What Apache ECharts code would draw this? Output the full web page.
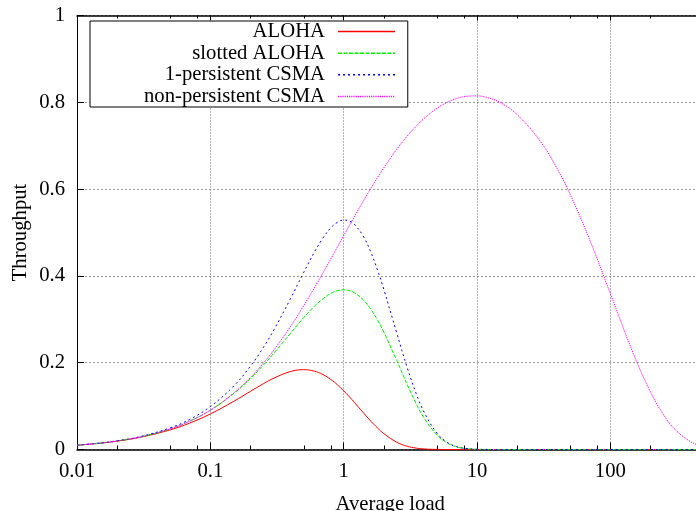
<!DOCTYPE html>
<html>
<head>
<meta charset="utf-8">
<script src="https://cdn.jsdelivr.net/npm/echarts@6/dist/echarts.min.js"></script>
<style>
html,body{margin:0;padding:0;background:#fff;}
#chart{width:696px;height:511px;}
</style>
</head>
<body>
<div id="chart"></div>
<script>
// Average load (x values, shared by all series)
const load = [0.01, 0.015, 0.02, 0.03, 0.05, 0.07,
  0.1, 0.15, 0.2, 0.25, 0.3, 0.4, 0.5, 0.6, 0.7, 0.8, 0.9,
  1, 1.1, 1.2, 1.4, 1.6, 1.8,
  2, 2.5, 3, 3.5, 4, 5, 6, 7, 8,
  10, 12, 15, 20, 30, 40, 50, 70,
  100, 150, 200, 250, 300, 400, 500];

const aloha = [0.0098, 0.0146, 0.0192, 0.0283, 0.0452, 0.0608,
  0.0819, 0.1111, 0.1341, 0.1516, 0.1646, 0.1797, 0.1839, 0.1807, 0.1726, 0.1615, 0.1488,
  0.1353, 0.1219, 0.1089, 0.0851, 0.0652, 0.0492,
  0.0366, 0.0168, 0.0074, 0.0032, 0.0013, 0.0002, 0, 0, 0,
  0, 0, 0, 0, 0, 0, 0, 0,
  0, 0, 0, 0, 0, 0, 0];

const slottedAloha = [0.0099, 0.0148, 0.0196, 0.0291, 0.0476, 0.0653,
  0.0905, 0.1291, 0.1637, 0.1947, 0.2222, 0.2681, 0.3033, 0.3293, 0.3476, 0.3595, 0.3659,
  0.3679, 0.3662, 0.3614, 0.3452, 0.3230, 0.2975,
  0.2707, 0.2052, 0.1494, 0.1057, 0.0733, 0.0337, 0.0149, 0.0064, 0.0027,
  0.0005, 0.0001, 0, 0, 0, 0, 0, 0,
  0, 0, 0, 0, 0, 0, 0];

const persistent1 = [0.0100, 0.0150, 0.0200, 0.0299, 0.0499, 0.0694,
  0.0989, 0.1465, 0.1921, 0.2354, 0.2760, 0.3480, 0.4072, 0.4535, 0.4875, 0.5105, 0.5237,
  0.5287, 0.5267, 0.5192, 0.4919, 0.4546, 0.4125,
  0.3692, 0.2686, 0.1882, 0.1288, 0.0867, 0.0380, 0.0161, 0.0067, 0.0028,
  0.0005, 0.0001, 0, 0, 0, 0, 0, 0,
  0, 0, 0, 0, 0, 0, 0];

const nonPersistent = [0.0099, 0.0148, 0.0196, 0.0291, 0.0476, 0.0653,
  0.0907, 0.1301, 0.1661, 0.1991, 0.2295, 0.2838, 0.3306, 0.3714, 0.4072, 0.4389, 0.4672,
  0.4925, 0.5154, 0.5360, 0.5719, 0.6019, 0.6273,
  0.6491, 0.6917, 0.7223, 0.7451, 0.7624, 0.7860, 0.8002, 0.8085, 0.8131,
  0.8148, 0.8108, 0.7989, 0.7717, 0.7091, 0.6466, 0.5877, 0.4835,
  0.3594, 0.2184, 0.1326, 0.0805, 0.0488, 0.0180, 0.0066];

const seriesNames = ['ALOHA', 'slotted ALOHA', '1-persistent CSMA', 'non-persistent CSMA'];
const xTickLabels = ['0.01', '0.1', '1', '10', '100'];
const xMinorTicks = [0.02, 0.05, 0.08, 0.2, 0.5, 0.8, 2, 5, 8, 20, 50, 80, 200];
const xName = 'Average load';
const yName = 'Throughput';

const FONT = 'Liberation Serif';
const FS = 20.7;
const chart = echarts.init(document.getElementById('chart'), null, {renderer: 'canvas'});

function pairs(vals) { return load.map((x, i) => [x, vals[i]]); }

function xLabel(v) {
  const l = Math.log10(v);
  const e = Math.round(l);
  if (Math.abs(l - e) > 1e-6) return '';
  return xTickLabels[e + 2] || '';
}

const lineBase = {type: 'line', symbol: 'none', smooth: 0.4, animation: false, z: 3};

chart.setOption({
  animation: false,
  backgroundColor: '#ffffff',
  grid: {left: 77, right: -7.5, top: 15.5, bottom: 61.5, containLabel: false, outerBoundsMode: 'none'},
  legend: {
    data: seriesNames,
    orient: 'vertical',
    align: 'right',
    left: 90,
    top: 21,
    padding: [0, 12, 0, 54],
    itemWidth: 57,
    itemHeight: 10,
    itemGap: 0.67,
    borderColor: '#000',
    borderWidth: 1,
    backgroundColor: '#fff',
    itemStyle: {color: 'transparent', borderWidth: 0, opacity: 0},
    lineStyle: {width: 1.5},
    formatter: function (name) { return name + '{g|}'; },
    textStyle: {fontFamily: FONT, fontSize: FS, lineHeight: 20.5, color: '#000',
      rich: {g: {width: 8, fontSize: FS, lineHeight: 20.5}}}
  },
  xAxis: [{
    type: 'log',
    logBase: 10,
    min: 0.01,
    max: 500,
    position: 'bottom',
    name: xName,
    nameLocation: 'middle',
    nameGap: 45,
    nameMoveOverlap: false,
    nameTextStyle: {fontFamily: FONT, fontSize: FS, color: '#000'},
    axisLine: {show: true, onZero: false, lineStyle: {color: '#000', width: 1.5}},
    axisTick: {show: true, inside: true, length: 7, lineStyle: {color: '#000'}},
    axisLabel: {show: true, fontFamily: FONT, fontSize: FS, color: '#000', margin: 12, formatter: xLabel, showMinLabel: true, showMaxLabel: false},
    splitLine: {show: true, lineStyle: {color: '#666', type: [1, 2], width: 1}},
    minorTick: {show: false}
  }, {
    type: 'log',
    logBase: 10,
    min: 0.01,
    max: 500,
    position: 'top',
    axisLine: {show: true, onZero: false, lineStyle: {color: '#000', width: 1.5}},
    axisTick: {show: true, inside: true, length: 5, lineStyle: {color: '#000'}},
    axisLabel: {show: false},
    splitLine: {show: false}
  }],
  yAxis: [{
    type: 'value',
    min: 0,
    max: 1,
    interval: 0.2,
    name: yName,
    nameLocation: 'middle',
    nameGap: 46,
    nameMoveOverlap: false,
    nameRotate: 90,
    nameTextStyle: {fontFamily: FONT, fontSize: FS, color: '#000'},
    axisLine: {show: true, onZero: false, lineStyle: {color: '#000', width: 1}},
    axisTick: {show: true, inside: true, length: 7, lineStyle: {color: '#000'}},
    axisLabel: {fontFamily: FONT, fontSize: FS, color: '#000', margin: 12},
    splitLine: {show: true, lineStyle: {color: '#999', type: [2, 2], width: 1}}
  }],
  series: [
    Object.assign({}, lineBase, {name: seriesNames[0], data: pairs(aloha),
      lineStyle: {color: '#ff0000', width: 1, type: 'solid'}, itemStyle: {color: '#ff0000'}}),
    Object.assign({}, lineBase, {name: seriesNames[1], data: pairs(slottedAloha),
      lineStyle: {color: '#00ee00', width: 1, type: [4, 1.5]}, itemStyle: {color: '#00ee00'}}),
    Object.assign({}, lineBase, {name: seriesNames[2], data: pairs(persistent1),
      lineStyle: {color: '#0000ff', width: 1, type: [2, 3]}, itemStyle: {color: '#0000ff'}}),
    Object.assign({}, lineBase, {name: seriesNames[3], data: pairs(nonPersistent),
      lineStyle: {color: '#ff00ff', width: 1, type: [1.2, 1]}, itemStyle: {color: '#ff00ff'}}),
    {
      type: 'custom',
      name: 'minorTicks',
      silent: true,
      animation: false,
      z: 4,
      encode: {x: 0, y: 1},
      data: xMinorTicks.map(v => [v, 0]),
      renderItem: function (params, api) {
        const v = api.value(0);
        const b = api.coord([v, 0]);
        const t = api.coord([v, 1]);
        const x = Math.round(b[0]) + 0.5;
        return {
          type: 'group',
          children: [
            {type: 'line', shape: {x1: x, y1: b[1], x2: x, y2: b[1] - 4}, style: {stroke: '#000', lineWidth: 1}},
            {type: 'line', shape: {x1: x, y1: t[1], x2: x, y2: t[1] + 3}, style: {stroke: '#000', lineWidth: 1}}
          ]
        };
      }
    }
  ]
});
</script>
</body>
</html>
